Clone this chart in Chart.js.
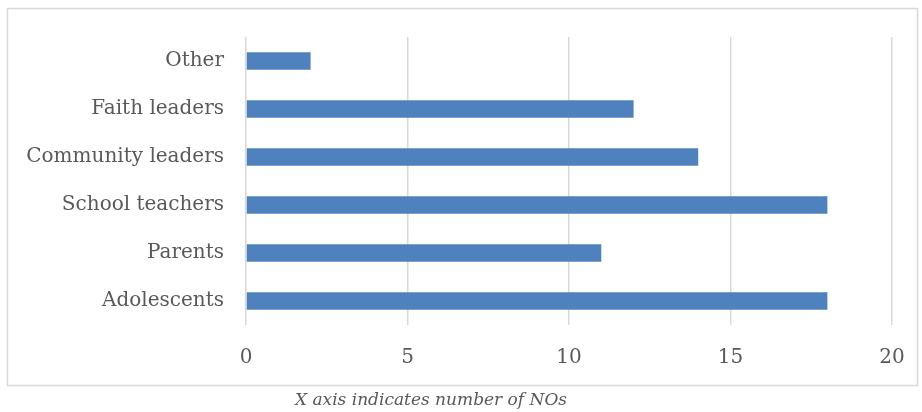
<!DOCTYPE html>
<html>
<head>
<meta charset="utf-8">
<script src="https://cdn.jsdelivr.net/npm/chart.js@4/dist/chart.umd.min.js"></script>
<style>
  html, body { margin: 0; padding: 0; background: #ffffff; }
  #wrap { position: relative; width: 922px; height: 412px; }
</style>
</head>
<body>
<div id="wrap"><canvas id="chart" width="922" height="412"></canvas></div>
<script>
// Stakeholder groups, top to bottom
const categories = ['Other', 'Faith leaders', 'Community leaders', 'School teachers', 'Parents', 'Adolescents'];
// Number of NOs per group
const counts = [2, 12, 14, 18, 11, 18];
const xTicks = [0, 5, 10, 15, 20];
const captionText = 'X axis indicates number of NOs';

const FONT = "'DejaVu Serif', 'Liberation Serif', serif";
const TEXT = '#595959';
const GRID = '#d9d9d9';

// Outer frame and caption beneath it
const framePlugin = {
  id: 'frame',
  beforeDraw(chart) {
    const ctx = chart.ctx;
    ctx.save();
    ctx.strokeStyle = GRID;
    ctx.lineWidth = 1.5;
    ctx.strokeRect(7.5, 8.5, 910, 377);
    ctx.restore();
  },
  afterDraw(chart) {
    const ctx = chart.ctx;
    ctx.save();
    ctx.fillStyle = TEXT;
    ctx.font = "italic 17px " + FONT;
    ctx.textAlign = 'center';
    ctx.textBaseline = 'middle';
    ctx.fillText(captionText, 431, 401);
    ctx.restore();
  }
};

new Chart(document.getElementById('chart'), {
  type: 'bar',
  data: {
    labels: categories,
    datasets: [{
      data: counts,
      backgroundColor: '#4f81bd',
      borderWidth: 0,
      barPercentage: 0.36,
      categoryPercentage: 1.0
    }]
  },
  plugins: [framePlugin],
  options: {
    indexAxis: 'y',
    responsive: false,
    animation: false,
    layout: { padding: { top: 37, right: 30, bottom: 26, left: 8 } },
    plugins: { legend: { display: false }, tooltip: { enabled: false } },
    scales: {
      x: {
        min: 0,
        max: 20,
        afterBuildTicks(scale) { scale.ticks = xTicks.map(v => ({ value: v })); },
        afterFit(scale) {
          scale.height = 61;
          scale.paddingLeft = 0;
          scale.paddingRight = 0;
        },
        grid: { color: GRID, lineWidth: 1.5, drawTicks: false },
        border: { display: false },
        ticks: { color: TEXT, font: { family: FONT, size: 20 }, padding: 21 }
      },
      y: {
        afterFit(scale) {
          scale.width = 246 - 8;
          scale.paddingTop = 0;
          scale.paddingBottom = 0;
        },
        grid: { display: false, drawTicks: false },
        border: { display: false },
        ticks: { color: TEXT, font: { family: FONT, size: 20 }, padding: 22 }
      }
    }
  }
});
</script>
</body>
</html>
